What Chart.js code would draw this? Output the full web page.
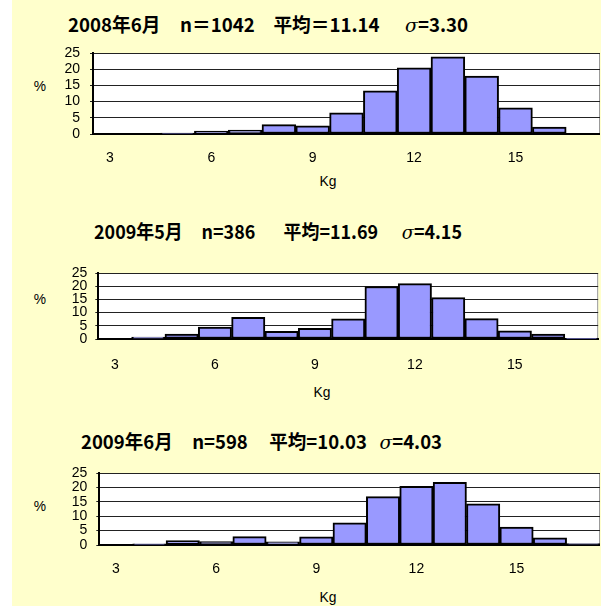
<!DOCTYPE html>
<html>
<head>
<meta charset="utf-8">
<script src="https://cdn.jsdelivr.net/npm/chart.js@4.4.1/dist/chart.umd.min.js"></script>
<style>
  html, body { margin: 0; padding: 0; background: #fff; }
  body { position: relative; width: 601px; height: 606px; overflow: hidden; }
  #bg { position: absolute; left: 12px; top: 0; width: 589px; height: 606px; background: #ffffcc; }
  canvas { position: absolute; }
  .lbl { position: absolute; white-space: pre; font-family: "Liberation Sans", sans-serif;
         font-size: 15px; color: #000; transform: translate(-50%, -50%) scaleX(0.92); }
  .ttl { position: absolute; white-space: pre; font-family: "Noto Sans CJK JP", sans-serif; font-weight: bold;
         font-size: 19px; color: #000; transform-origin: left center; }
  .ttl i { font-family: "DejaVu Serif", serif; font-weight: normal; }
</style>
</head>
<body>
<div id="bg"></div>

<div class="ttl" style="left:68px;top:22.5px" data-w="400">2008年6月<span style="margin-left:20px">n＝1042</span><span style="margin-left:19px">平均＝11.14</span><span style="margin-left:26px"><i>σ</i>=3.30</span></div>
<div class="ttl" style="left:94px;top:230px" data-w="368">2009年5月<span style="margin-left:20px">n=386</span><span style="margin-left:30px">平均=11.69</span><span style="margin-left:25px"><i>σ</i>=4.15</span></div>
<div class="ttl" style="left:81px;top:439.5px" data-w="361">2009年6月<span style="margin-left:20px">n=598</span><span style="margin-left:22px">平均=10.03</span><span style="margin-left:13px"><i>σ</i>=4.03</span></div>

<div class="lbl" style="left:40px;top:84.5px">%</div>
<div class="lbl" style="left:40px;top:298px">%</div>
<div class="lbl" style="left:40px;top:505px">%</div>
<div class="lbl" style="left:327.5px;top:180px">Kg</div>
<div class="lbl" style="left:322px;top:391px">Kg</div>
<div class="lbl" style="left:327.5px;top:595.5px">Kg</div>

<canvas id="c1"></canvas>
<canvas id="c2"></canvas>
<canvas id="c3"></canvas>

<script>
// weight classes (kg) and share of fish in each class (%)
const weights = ['3', '4', '5', '6', '7', '8', '9', '10', '11', '12', '13', '14', '15', '16', '17'];
const pct2008Jun = [0, 0, 0.3, 0.9, 1.2, 2.9, 2.5, 6.5, 13.3, 20.4, 23.8, 17.9, 8.1, 2.1, 0];
const pct2009May = [0, 0.7, 1.9, 4.5, 8.2, 2.9, 4.0, 7.6, 19.9, 21.0, 15.7, 7.7, 3.1, 1.9, 0.3];
const pct2009Jun = [0, 0.4, 1.5, 1.2, 2.9, 1.1, 2.8, 7.7, 16.8, 20.4, 21.8, 14.3, 6.2, 2.5, 0.5];
const yTicks = [0, 5, 10, 15, 20, 25];
const xLabelsShown = ['3', '6', '9', '12', '15'];

// fit the titles to their measured widths
document.querySelectorAll('.ttl').forEach(el => {
    el.style.transform = 'translateY(-50%)';
    const w = el.getBoundingClientRect().width;
    el.style.transform = 'translateY(-50%) scaleX(' + (el.dataset.w / w) + ')';
});

Chart.defaults.font.family = "'Liberation Sans', sans-serif";
Chart.defaults.font.size = 13;
Chart.defaults.color = '#000';

// white plot area with a grey frame, like the spreadsheet original
const plotFrame = {
    id: 'plotFrame',
    beforeDraw(chart) {
        const a = chart.chartArea, ctx = chart.ctx;
        ctx.save();
        ctx.fillStyle = '#fff';
        ctx.fillRect(a.left, a.top, a.right - a.left, a.bottom - a.top);
        ctx.strokeStyle = '#999';
        ctx.lineWidth = 1;
        ctx.beginPath();
        ctx.moveTo(a.left, a.top + 0.5);
        ctx.lineTo(a.right - 0.5, a.top + 0.5);
        ctx.lineTo(a.right - 0.5, a.bottom);
        ctx.stroke();
        ctx.restore();
    }
};

const panels = [
    { id: 'c1', values: pct2008Jun, areaLeft: 93, areaRight: 600, areaTop: 45.5, areaBottom: 133.7, yPad: 10, xPad: 16 },
    { id: 'c2', values: pct2009May, areaLeft: 98.3, areaRight: 599, areaTop: 267.7, areaBottom: 338.7, yPad: 8, xPad: 17.5 },
    { id: 'c3', values: pct2009Jun, areaLeft: 99.3, areaRight: 600, areaTop: 466.7, areaBottom: 544.3, yPad: 9, xPad: 15.5 }
];

panels.forEach(p => {
    const padTop = 10, axisH = 40;
    const top = p.areaTop - padTop;
    const height = p.areaBottom + axisH - top;
    const canvas = document.getElementById(p.id);
    canvas.width = p.areaRight;
    canvas.height = Math.round(height);
    canvas.style.left = '0px';
    canvas.style.top = top + 'px';
    canvas.style.width = p.areaRight + 'px';
    canvas.style.height = Math.round(height) + 'px';

    new Chart(canvas.getContext('2d'), {
        type: 'bar',
        data: {
            labels: weights,
            datasets: [{
                data: p.values,
                backgroundColor: '#9999ff',
                borderColor: '#000',
                borderWidth: 2,
                borderSkipped: false,
                barPercentage: 1,
                categoryPercentage: 1
            }]
        },
        options: {
            responsive: false,
            animation: false,
            devicePixelRatio: 1,
            layout: { padding: { top: padTop, right: 0, bottom: 0, left: 0 } },
            plugins: { legend: { display: false }, tooltip: { enabled: false } },
            scales: {
                x: {
                    grid: { display: false, drawTicks: false },
                    border: { display: true, color: '#000', width: 2 },
                    ticks: {
                        autoSkip: false,
                        maxRotation: 0,
                        padding: p.xPad,
                        font: { size: 14 },
                        callback(value) {
                            const lab = this.getLabelForValue(value);
                            return xLabelsShown.includes(lab) ? lab : '';
                        }
                    },
                    afterFit(scale) { scale.height = axisH; }
                },
                y: {
                    min: 0,
                    max: 25,
                    grid: { color: '#222', lineWidth: 1, drawTicks: true, tickLength: 3 },
                    border: { display: true, color: '#000', width: 2 },
                    ticks: { autoSkip: false, padding: p.yPad, font: { size: 14, lineHeight: 1 } },
                    afterBuildTicks(scale) { scale.ticks = yTicks.map(v => ({ value: v })); },
                    afterFit(scale) { scale.width = p.areaLeft; }
                }
            }
        },
        plugins: [plotFrame]
    });
});
</script>
</body>
</html>
